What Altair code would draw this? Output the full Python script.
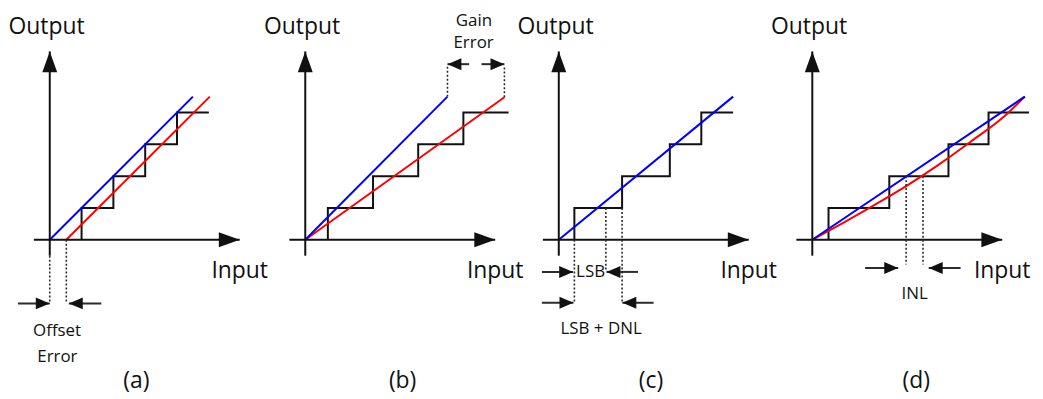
import altair as alt
import pandas as pd

# ---------------------------------------------------------------------------
# Data, in "LSB" units. Each panel's origin (input 0, output 0) is (0, 0).
# ---------------------------------------------------------------------------
LEVELS = [1, 2, 3, 4]                 # output codes of the staircase
X_AXIS = [-0.5, 5.97]                 # input axis extent (start, arrow tip)
Y_AXIS = [-0.5, 5.92]                 # output axis extent (start, arrow tip)
Y_DOMAIN = [-4.875, 7.25]

PANEL_LABELS = ["(a)", "(b)", "(c)", "(d)"]
PANEL_LABEL_X = [2.72, 3.06, 2.90, 3.27]
PANEL_LABEL_Y = -4.66
OUTPUT_LABEL = ("Output", -0.10, 6.47)
INPUT_LABEL = ("Input", 5.97, -1.19)

# (a) offset error
A_TRANS = [1.0, 2.0, 3.0, 4.0]
A_END = 5.0
A_IDEAL_X, A_IDEAL_Y = [0.0, 4.5], [0.0, 4.5]
A_ACTUAL_X, A_ACTUAL_Y = [0.52, 5.03], [0.0, 4.5]
A_DOTS = [(0.0, -0.5, 0.0, -1.95), (0.52, 0.0, 0.52, -1.95)]
A_ARROWS = [(-1.0, -2.0, 0.0, -2.0), (1.62, -2.0, 0.6, -2.0)]
A_TEXT = [("Offset", 0.23, -3.02), ("Error", 0.24, -3.83)]

# (b) gain error
B_TRANS = [0.71, 2.13, 3.55, 4.97]
B_END = 6.39
B_IDEAL_X, B_IDEAL_Y = [0.0, 4.47], [0.0, 4.5]
B_ACTUAL_X, B_ACTUAL_Y = [0.0, 6.26], [0.0, 4.48]
B_DOTS = [(4.47, 4.5, 4.47, 5.47), (6.26, 4.48, 6.26, 5.47)]
B_ARROWS = [(5.15, 5.52, 4.47, 5.52), (5.54, 5.52, 6.26, 5.52)]
B_TEXT = [("Gain", 5.30, 6.73), ("Error", 5.29, 6.02)]

# (c) differential nonlinearity
C_TRANS = [0.49, 1.99, 3.49, 4.48]
C_END = 5.48
C_IDEAL_X, C_IDEAL_Y = [0.0, 5.48], [0.0, 4.5]
C_DOTS = [(0.49, 0.0, 0.49, -1.97), (1.48, 1.0, 1.48, -0.97), (1.99, 1.0, 1.99, -1.97)]
C_ARROWS = [(-0.53, -1.01, 0.45, -1.01), (2.49, -1.01, 1.50, -1.01),
            (-0.53, -1.98, 0.46, -1.98), (2.98, -1.98, 2.00, -1.98)]
C_TEXT = [("LSB", 1.00, -1.18), ("LSB + DNL", 1.33, -2.95)]

# (d) integral nonlinearity
D_TRANS = [0.51, 2.42, 4.28, 5.54]
D_END = 6.81
D_IDEAL_X, D_IDEAL_Y = [0.0, 6.68], [0.0, 4.5]
D_ACTUAL_X = [0.0, 1.0, 2.0, 3.0, 4.0, 5.0, 6.0, 6.68]
D_ACTUAL_Y = [0.0, 0.55, 1.12, 1.72, 2.38, 3.10, 3.85, 4.5]
D_DOTS = [(2.95, 2.0, 2.95, -0.78), (3.48, 2.0, 3.48, -0.78)]
D_ARROWS = [(1.66, -0.885, 2.70, -0.885), (4.66, -0.885, 3.66, -0.885)]
D_TEXT = [("INL", 3.22, -1.875)]

# ---------------------------------------------------------------------------
# Layout / style
# ---------------------------------------------------------------------------
PANELS = [  # (x domain, width in px) -> 32 px per LSB unit
    ([-1.3125, 6.5625], 252),
    ([-1.46875, 6.65625], 260),
    ([-1.3125, 6.8125], 260),
    ([-1.15625, 7.0], 261),
]
FONT = "Open Sans"
BLUE = "#0000ff"
RED = "#ff0000"
INK = "#111111"
GREY = "#2b2b2b"
AXIS_HEAD = "M0,0L-21,-7.5L-21,7.5Z"
SMALL_HEAD = "M0,0L-14,-6L-14,6Z"
HEIGHT = 388


def line_df(xs, ys):
    return pd.DataFrame({"x": xs, "y": ys, "o": list(range(len(xs)))})


def seg_df(segs):
    return pd.DataFrame(segs, columns=["x0", "y0", "x1", "y1"])


def panel(idx, trans, end, ideal, actual, dots, arrows, texts, curve=False):
    dom, width = PANELS[idx]
    xs = alt.Scale(domain=dom, nice=False, zero=False)
    ys = alt.Scale(domain=Y_DOMAIN, nice=False, zero=False)

    def rules(df, **mk):
        return alt.Chart(df).mark_rule(**mk).encode(
            x=alt.X("x0:Q", scale=xs, axis=None), x2="x1:Q",
            y=alt.Y("y0:Q", scale=ys, axis=None), y2="y1:Q")

    def path(df, **mk):
        return alt.Chart(df).mark_line(**mk).encode(
            x=alt.X("x:Q", scale=xs, axis=None),
            y=alt.Y("y:Q", scale=ys, axis=None),
            order="o:Q")

    def heads(df, shape, color):
        return alt.Chart(df).mark_point(
            shape=shape, size=4, filled=True, opacity=1, strokeWidth=0, color=color
        ).encode(
            x=alt.X("x:Q", scale=xs, axis=None),
            y=alt.Y("y:Q", scale=ys, axis=None),
            angle=alt.Angle("ang:Q", scale=None))

    layers = []
    # staircase transfer function
    sx, sy = [], []
    for t, lv in zip(trans, LEVELS):
        sx += [t, t]
        sy += [lv - 1, lv]
    sx.append(end)
    sy.append(LEVELS[-1])
    layers.append(path(line_df(sx, sy), color=INK, strokeWidth=2, strokeJoin="miter"))

    # actual (red) and ideal (blue) lines
    if actual is not None:
        layers.append(path(line_df(*actual), color=RED, strokeWidth=2,
                           interpolate="monotone" if curve else "linear"))
    layers.append(path(line_df(*ideal), color=BLUE, strokeWidth=2))

    # axes
    axes = seg_df([(X_AXIS[0], 0, X_AXIS[1], 0), (0, Y_AXIS[0], 0, Y_AXIS[1])])
    layers.append(rules(axes, color=INK, strokeWidth=2))
    ah = pd.DataFrame({"x": [X_AXIS[1], 0], "y": [0, Y_AXIS[1]], "ang": [0, 270]})
    layers.append(heads(ah, AXIS_HEAD, INK))

    # dotted guides
    layers.append(rules(seg_df(dots), color=GREY, strokeWidth=1.6, strokeDash=[2, 2]))

    # dimension arrows
    ar = seg_df(arrows)
    layers.append(rules(ar, color=GREY, strokeWidth=2))
    hd = pd.DataFrame({"x": ar["x1"], "y": ar["y1"],
                       "ang": [0 if b > a else 180 for a, b in zip(ar["x0"], ar["x1"])]})
    layers.append(heads(hd, SMALL_HEAD, INK))

    # texts
    big = pd.DataFrame([OUTPUT_LABEL, INPUT_LABEL,
                        (PANEL_LABELS[idx], PANEL_LABEL_X[idx], PANEL_LABEL_Y)],
                       columns=["t", "x", "y"])
    small = pd.DataFrame(texts, columns=["t", "x", "y"])
    for df, fs in ((big, 23), (small, 17)):
        layers.append(alt.Chart(df).mark_text(
            font=FONT, fontSize=fs, color=INK, align="center", baseline="alphabetic"
        ).encode(
            x=alt.X("x:Q", scale=xs, axis=None),
            y=alt.Y("y:Q", scale=ys, axis=None),
            text="t:N"))

    return alt.layer(*layers).properties(width=width, height=HEIGHT)


pa = panel(0, A_TRANS, A_END, (A_IDEAL_X, A_IDEAL_Y), (A_ACTUAL_X, A_ACTUAL_Y),
           A_DOTS, A_ARROWS, A_TEXT)
pb = panel(1, B_TRANS, B_END, (B_IDEAL_X, B_IDEAL_Y), (B_ACTUAL_X, B_ACTUAL_Y),
           B_DOTS, B_ARROWS, B_TEXT)
pc = panel(2, C_TRANS, C_END, (C_IDEAL_X, C_IDEAL_Y), None,
           C_DOTS, C_ARROWS, C_TEXT)
pd_ = panel(3, D_TRANS, D_END, (D_IDEAL_X, D_IDEAL_Y), (D_ACTUAL_X, D_ACTUAL_Y),
            D_DOTS, D_ARROWS, D_TEXT, curve=True)

chart = alt.hconcat(pa, pb, pc, pd_, spacing=0, bounds="flush").properties(
    padding=0, background="white"
).configure_view(stroke=None)

chart.save("out.html", embed_options={"renderer": "svg", "actions": False})
